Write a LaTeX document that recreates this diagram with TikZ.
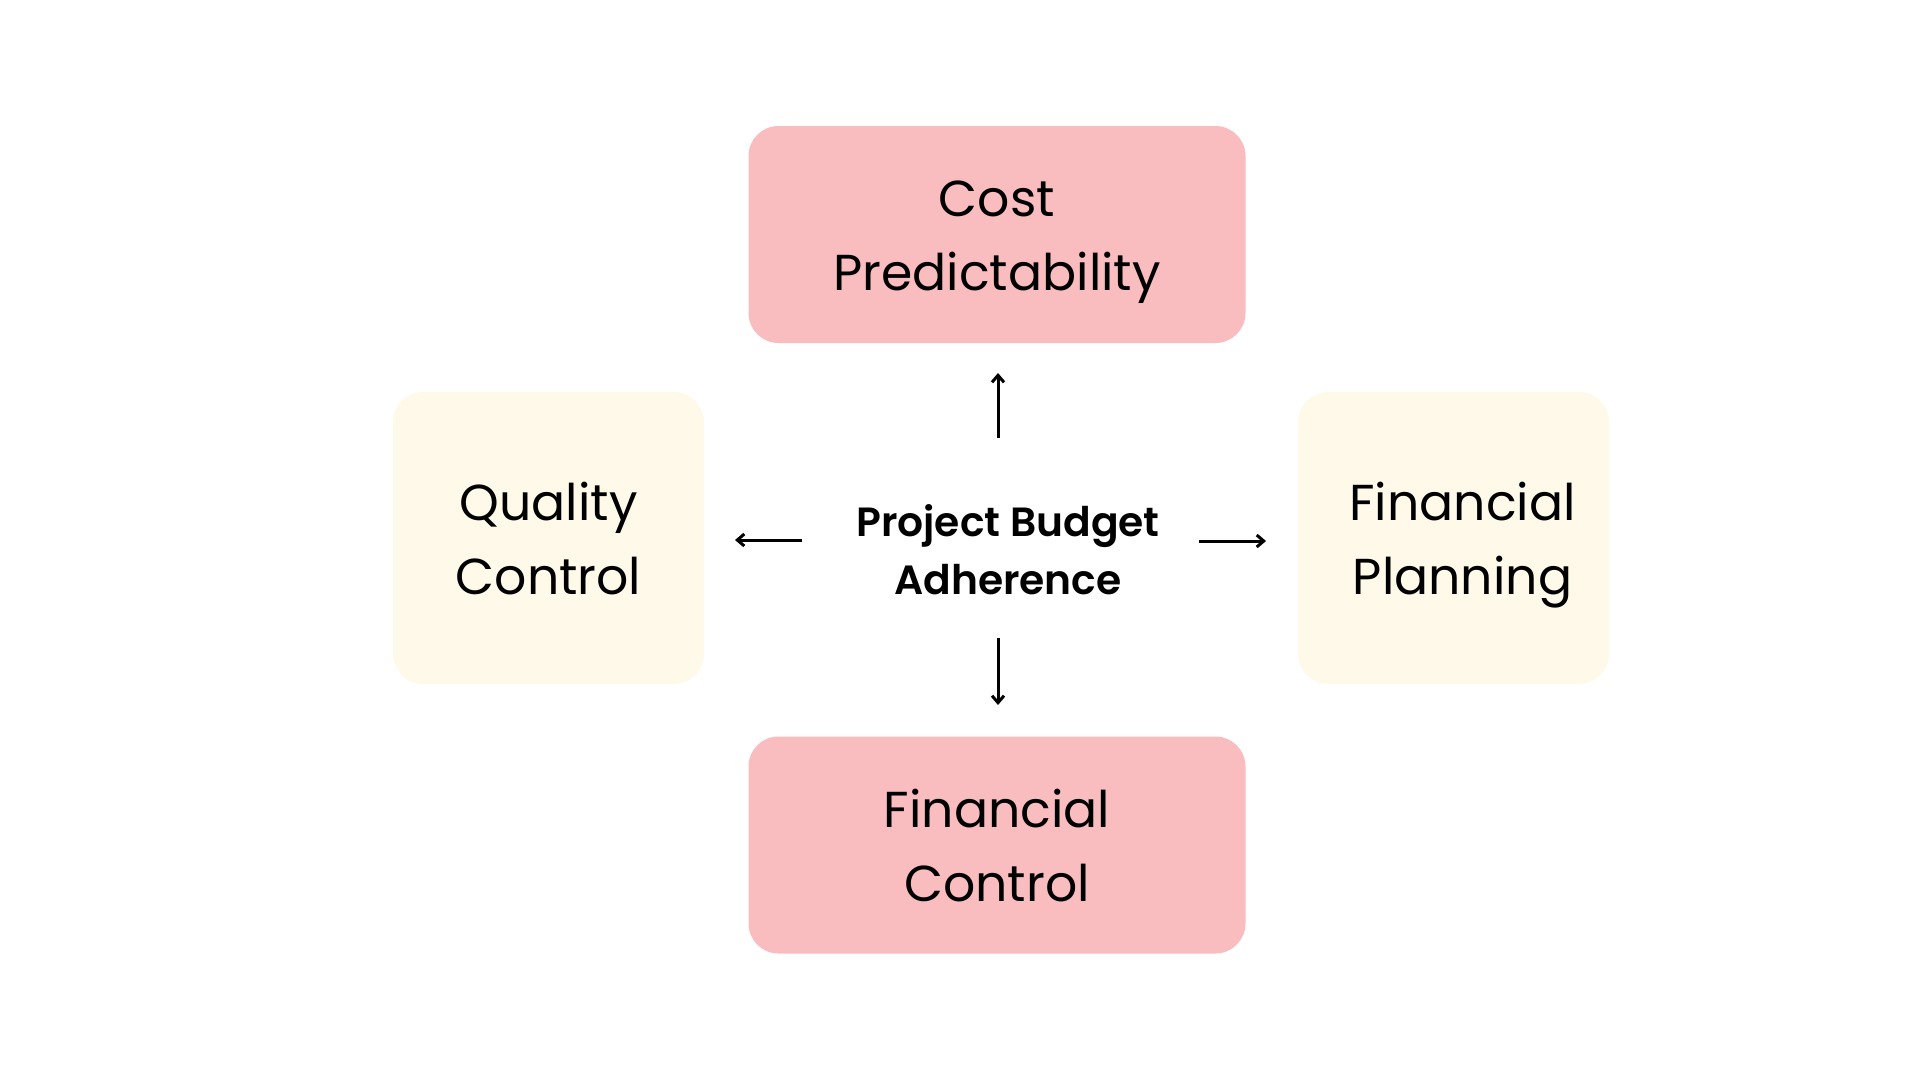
\documentclass[tikz,border=0pt]{standalone}
\usepackage{fontspec}
\setmainfont{Poppins}
\newfontfamily\hubfont{Poppins}[UprightFont={* SemiBold}]
\usetikzlibrary{arrows.meta}
\definecolor{boxpink}{RGB}{249,188,191}
\definecolor{boxcream}{RGB}{254,249,233}
\newcommand\cardstrut{\rule[-18pt]{0pt}{74pt}}
\newcommand\hubstrut{\rule[-15.5pt]{0pt}{57.5pt}}
\begin{document}
\begin{tikzpicture}[x=1pt,y=-1pt,
  card/.style={rounded corners=30pt, inner sep=0pt, align=center,
    font=\fontsize{50.5}{74}\selectfont},
  pinkcard/.style={card, fill=boxpink, minimum width=497pt, minimum height=217pt},
  creamcard/.style={card, fill=boxcream, minimum width=311pt, minimum height=292pt},
  hub/.style={align=center, inner sep=0pt, font=\fontsize{40.8}{58}\hubfont},
  link/.style={line width=3pt, -{Straight Barb[length=7pt,width=12pt,line width=3pt]}}
]
\useasboundingbox (0,0) rectangle (1920,1080);
\fill[white] (0,0) rectangle (1920,1080);
\node[pinkcard] (cost) at (997,234.5) {\cardstrut Cost\\\cardstrut Predictability};
\node[pinkcard] (fcontrol) at (997,845) {\cardstrut Financial\\\cardstrut Control};
\node[creamcard] (quality) at (548.5,538) {\cardstrut Quality\\\cardstrut Control};
\node[creamcard] (fplan) at (1453.5,538) {\hspace*{18pt}\cardstrut Financial\\\hspace*{18pt}\cardstrut Planning};
\node[hub] (center) at (1008,552) {\hubstrut Project Budget\\\hubstrut Adherence};
\coordinate (upS) at (998,438);
\coordinate (upE) at (998,373);
\coordinate (dnS) at (998,638);
\coordinate (dnE) at (998,705);
\coordinate (lfS) at (802,540);
\coordinate (lfE) at (735,540);
\coordinate (rtS) at (1199,541);
\coordinate (rtE) at (1266,541);
\draw[link] (upS) -- (upE);
\draw[link] (dnS) -- (dnE);
\draw[link] (lfS) -- (lfE);
\draw[link] (rtS) -- (rtE);
\end{tikzpicture}
\end{document}
